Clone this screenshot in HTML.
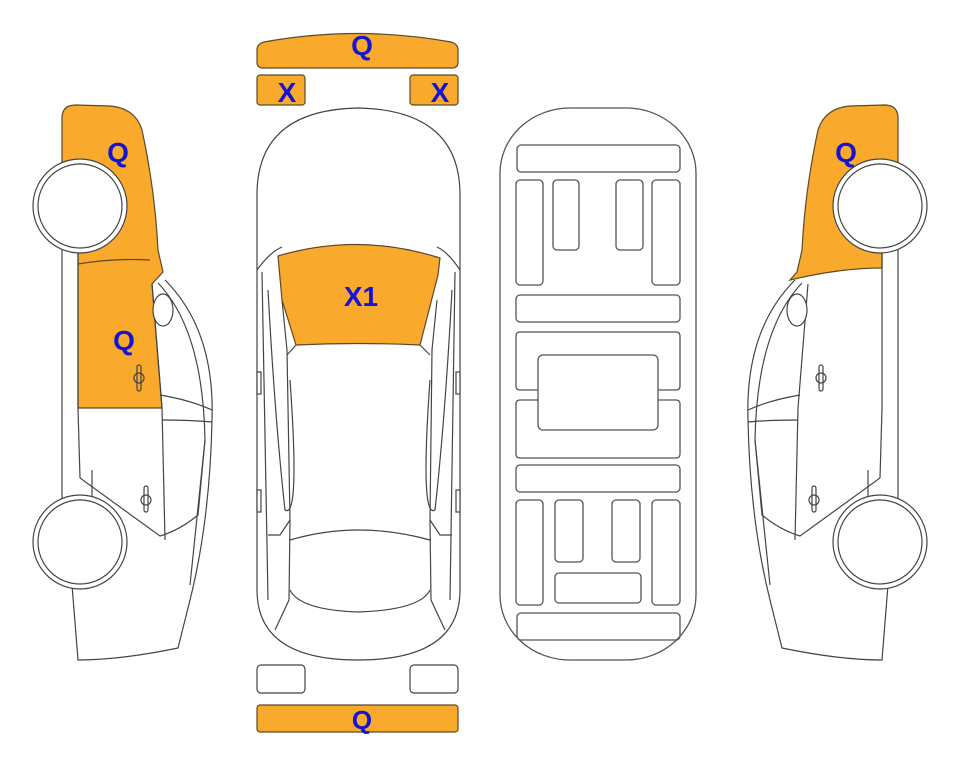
<!DOCTYPE html>
<html><head><meta charset="utf-8"><style>
html,body{margin:0;padding:0;background:#fff;}
svg{display:block}
text{font-family:"Liberation Sans",Arial,sans-serif;font-weight:bold;fill:#1414d2;}
</style></head><body>
<svg width="963" height="768" viewBox="0 0 963 768" xmlns="http://www.w3.org/2000/svg">
<defs>
<g id="side" fill="none" stroke="#444" stroke-width="1.2">
  <path d="M165,280 Q215,330 212,420 Q210,520 190,600 L178,648 Q120,660 78,660 L72,585"/>
  <path d="M158,283 Q203,330 205,440 L190,585"/>
  <path d="M62,250 L62,500 L78,500"/>
  <path d="M78,250 L78,408 L80,478 L160,536 Q180,530 198,515 L205,440"/>
  <path d="M152,284 L162,408 L165,540"/>
  <path d="M160,395 Q190,400 212,410 M162,420 Q190,420 212,422"/>
  <path d="M92,470 L92,498"/>
  <ellipse cx="163" cy="310" rx="10" ry="16" fill="#fff"/>
  <rect x="137" y="365" width="4" height="26" rx="2"/>
  <rect x="144" y="486" width="4" height="26" rx="2"/>
  <circle cx="139" cy="378" r="5"/><circle cx="146" cy="500" r="5"/>
</g>
</defs>

<!-- left car -->
<path d="M62,248 L62,118 Q62,105 76,105 L110,106 Q135,108 142,130 Q155,190 158,250 L163,272 L152,284 L162,408 L78,408 L78,250 Z" fill="#f9a92c" stroke="#5a4a2a" stroke-width="1.2"/>
<path d="M78,264 Q115,258 150,260" fill="none" stroke="#5a4a2a" stroke-width="1.2"/>
<use href="#side"/>
<circle cx="80" cy="206" r="47" fill="#fff" stroke="#444" stroke-width="1.2"/>
<circle cx="80" cy="206" r="42" fill="#fff" stroke="#444" stroke-width="1.2"/>
<circle cx="80" cy="542" r="47" fill="#fff" stroke="#444" stroke-width="1.2"/>
<circle cx="80" cy="542" r="42" fill="#fff" stroke="#444" stroke-width="1.2"/>
<text x="118" y="162" font-size="28" text-anchor="middle">Q</text>
<text x="124" y="350" font-size="28" text-anchor="middle">Q</text>

<!-- right car (mirror) -->
<g transform="translate(960,0) scale(-1,1)">
<path d="M62,248 L62,118 Q62,105 76,105 L110,106 Q135,108 142,130 Q155,190 158,250 L163,272 L170,280 Q120,268 78,268 L78,250 Z" fill="#f9a92c" stroke="#5a4a2a" stroke-width="1.2"/>
<use href="#side"/>
<circle cx="80" cy="206" r="47" fill="#fff" stroke="#444" stroke-width="1.2"/>
<circle cx="80" cy="206" r="42" fill="#fff" stroke="#444" stroke-width="1.2"/>
<circle cx="80" cy="542" r="47" fill="#fff" stroke="#444" stroke-width="1.2"/>
<circle cx="80" cy="542" r="42" fill="#fff" stroke="#444" stroke-width="1.2"/>
</g>
<text x="846" y="162" font-size="28" text-anchor="middle">Q</text>

<!-- top view -->
<path d="M257,50 Q257,44 264,42 Q357,25 451,42 Q458,44 458,50 L458,62 Q458,68 452,68 L263,68 Q257,68 257,62 Z" fill="#f9a92c" stroke="#5a4a2a" stroke-width="1.2"/>
<text x="362" y="55" font-size="28" text-anchor="middle">Q</text>
<rect x="257" y="75" width="48" height="30" rx="3" fill="#f9a92c" stroke="#5a4a2a" stroke-width="1.2"/>
<rect x="410" y="75" width="48" height="30" rx="3" fill="#f9a92c" stroke="#5a4a2a" stroke-width="1.2"/>
<text x="287" y="102" font-size="28" text-anchor="middle">X</text>
<text x="440" y="102" font-size="28" text-anchor="middle">X</text>

<g fill="none" stroke="#444" stroke-width="1.2">
<path d="M257,195 Q257,110 358,108 Q460,110 460,195 L460,590 Q460,660 358,660 Q257,660 257,590 Z"/>
<path d="M257,270 Q270,252 282,247 M460,270 Q448,252 437,247"/>
<path d="M282,300 L287,350 L290,520 L289,600 L275,630 M437,300 L432,350 L430,520 L431,600 L445,630"/>
<path d="M262,272 L268,600 M455,272 L450,600"/>
<path d="M296,345 L287,355 M420,345 L430,355"/>
<path d="M290,540 Q358,520 430,540"/>
<path d="M290,590 Q300,610 358,612 Q420,610 430,590"/>
<path d="M290,520 L280,535 L268,535 M430,520 L440,535 L452,535"/>
<path d="M268,290 Q275,420 285,510 Q300,520 290,380 M452,290 Q445,420 435,510 Q420,520 430,380"/>
<rect x="257" y="372" width="4" height="22" fill="#fff"/><rect x="257" y="490" width="4" height="22" fill="#fff"/>
<rect x="456" y="372" width="4" height="22" fill="#fff"/><rect x="456" y="490" width="4" height="22" fill="#fff"/>
</g>
<path d="M278,256 Q358,232 440,258 L438,275 L420,345 Q358,342 296,345 L282,300 Z" fill="#f9a92c" stroke="#5a4a2a" stroke-width="1.2"/>
<text x="361" y="306" font-size="28" text-anchor="middle">X1</text>

<g fill="#fff" stroke="#444" stroke-width="1.2">
<rect x="257" y="665" width="48" height="28" rx="4"/>
<rect x="410" y="665" width="48" height="28" rx="4"/>
</g>
<rect x="257" y="705" width="201" height="27" rx="3" fill="#f9a92c" stroke="#5a4a2a" stroke-width="1.2"/>
<text x="362" y="729" font-size="26" text-anchor="middle">Q</text>

<!-- underbody -->
<g fill="none" stroke="#555" stroke-width="1.3">
<rect x="500" y="108" width="196" height="552" rx="70" ry="65"/>
<rect x="517" y="145" width="163" height="27" rx="4"/>
<rect x="516" y="180" width="27" height="105" rx="4"/>
<rect x="553" y="180" width="26" height="70" rx="4"/>
<rect x="616" y="180" width="27" height="70" rx="4"/>
<rect x="652" y="180" width="28" height="105" rx="4"/>
<rect x="516" y="295" width="164" height="27" rx="4"/>
<path d="M538,390 L520,390 Q516,390 516,386 L516,336 Q516,332 520,332 L676,332 Q680,332 680,336 L680,386 Q680,390 676,390 L658,390"/>
<path d="M538,400 L520,400 Q516,400 516,404 L516,454 Q516,458 520,458 L676,458 Q680,458 680,454 L680,404 Q680,400 676,400 L658,400"/>
<rect x="538" y="355" width="120" height="75" rx="5"/>
<rect x="516" y="465" width="164" height="27" rx="4"/>
<rect x="516" y="500" width="27" height="105" rx="4"/>
<rect x="555" y="500" width="28" height="62" rx="4"/>
<rect x="612" y="500" width="28" height="62" rx="4"/>
<rect x="652" y="500" width="28" height="105" rx="4"/>
<rect x="555" y="573" width="86" height="30" rx="4"/>
<rect x="517" y="613" width="163" height="27" rx="4"/>
</g>
</svg>
</body></html>
